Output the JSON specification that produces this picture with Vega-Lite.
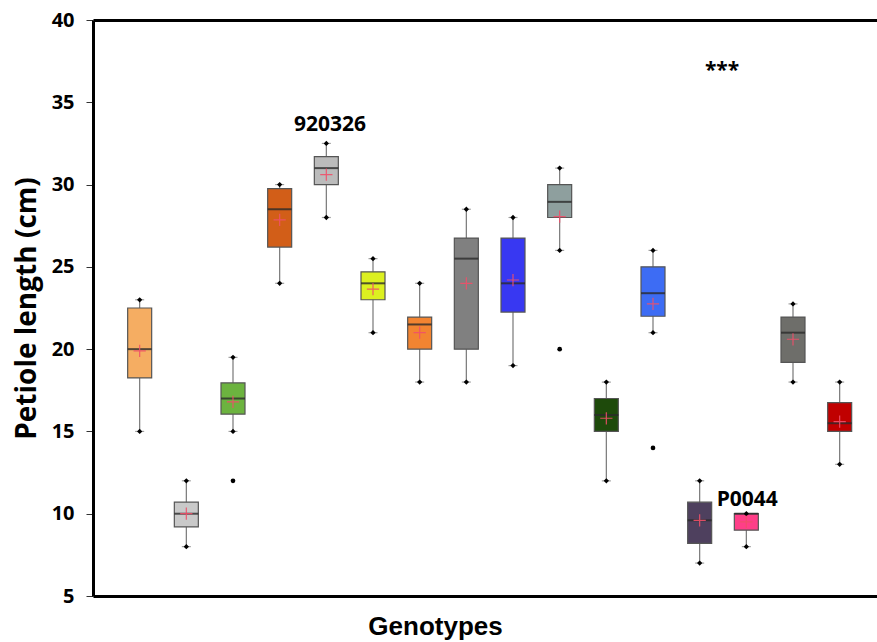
{
  "$schema": "https://vega.github.io/schema/vega-lite/v6.json",
  "autosize": "none",
  "width": 784,
  "height": 576,
  "padding": {"left": 93, "top": 20, "right": 0, "bottom": 46},
  "background": "white",
  "config": {
    "view": {"stroke": null},
    "font": "Open Sans"
  },
  "datasets": {
    "stats": [
      {"g": "G1", "idx": 1, "lo": 15, "q1": 18.25, "med": 20, "q3": 22.5, "hi": 23, "mean": 19.9},
      {"g": "G2", "idx": 2, "lo": 8, "q1": 9.2, "med": 10, "q3": 10.7, "hi": 12, "mean": 10},
      {"g": "G3", "idx": 3, "lo": 15, "q1": 16.05, "med": 17, "q3": 17.95, "hi": 19.5, "mean": 16.8},
      {"g": "G4", "idx": 4, "lo": 24, "q1": 26.2, "med": 28.5, "q3": 29.75, "hi": 30, "mean": 27.85},
      {"g": "G5", "idx": 5, "lo": 28, "q1": 30, "med": 31, "q3": 31.7, "hi": 32.5, "mean": 30.6},
      {"g": "G6", "idx": 6, "lo": 21, "q1": 23, "med": 24, "q3": 24.7, "hi": 25.5, "mean": 23.65},
      {"g": "G7", "idx": 7, "lo": 18, "q1": 20, "med": 21.5, "q3": 21.95, "hi": 24, "mean": 21},
      {"g": "G8", "idx": 8, "lo": 18, "q1": 20, "med": 25.5, "q3": 26.75, "hi": 28.5, "mean": 24},
      {"g": "G9", "idx": 9, "lo": 19, "q1": 22.25, "med": 24, "q3": 26.75, "hi": 28, "mean": 24.2},
      {"g": "G10", "idx": 10, "lo": 26, "q1": 28, "med": 28.95, "q3": 30, "hi": 31, "mean": 28.05},
      {"g": "G11", "idx": 11, "lo": 12, "q1": 15, "med": 16, "q3": 17, "hi": 18, "mean": 15.8},
      {"g": "G12", "idx": 12, "lo": 21, "q1": 22, "med": 23.4, "q3": 25, "hi": 26, "mean": 22.75},
      {"g": "G13", "idx": 13, "lo": 7, "q1": 8.2, "med": 9.6, "q3": 10.7, "hi": 12, "mean": 9.6},
      {"g": "G14", "idx": 14, "lo": 8, "q1": 9, "med": 10, "q3": 10, "hi": 10, "mean": 9.5},
      {"g": "G15", "idx": 15, "lo": 18, "q1": 19.2, "med": 21, "q3": 21.95, "hi": 22.75, "mean": 20.6},
      {"g": "G16", "idx": 16, "lo": 13, "q1": 15, "med": 15.5, "q3": 16.75, "hi": 18, "mean": 15.6}
    ],
    "outliers": [
      {"g": "G3", "idx": 3, "v": 12},
      {"g": "G10", "idx": 10, "v": 20},
      {"g": "G12", "idx": 12, "v": 14}
    ],
    "notes": [
      {"label": "920326", "idx": 5.08, "v": 33.6},
      {"label": "P0044", "idx": 14.02, "v": 10.85},
      {"label": "***", "idx": 13.48, "v": 36.9}
    ]
  },
  "resolve": {"axis": {"x": "independent"}},
  "layer": [
    {
      "data": {"name": "stats"},
      "mark": {"type": "rule", "color": "#777777", "strokeWidth": 1.2},
      "encoding": {
        "x": {"field": "idx", "type": "quantitative",
              "scale": {"domain": [0, 16.8], "nice": false, "zero": false, "padding": 0},
              "axis": {"labels": false, "ticks": false, "grid": false, "domain": true,
                       "domainColor": "black", "domainWidth": 3,
                       "title": "Genotypes", "titleFont": "Liberation Sans", "titleFontSize": 26, "titleFontWeight": "bold",
                       "titleColor": "black", "titleX": 342, "titleY": 30, "titleAnchor": "middle", "titleBaseline": "middle"}},
        "y": {"field": "lo", "type": "quantitative",
              "scale": {"domain": [5, 40], "nice": false, "zero": false},
              "axis": {"values": [5, 10, 15, 20, 25, 30, 35, 40], "grid": false,
                       "domain": true, "domainColor": "black", "domainWidth": 3,
                       "tickColor": "#333333", "tickSize": 7, "tickWidth": 1,
                       "labelFontSize": 20, "labelFontWeight": "bold", "labelColor": "black",
                       "labelPadding": 12,
                       "title": "Petiole length (cm)", "titleFontSize": 28, "titleFontWeight": "bold",
                       "titleColor": "black", "titlePadding": 10}},
        "y2": {"field": "hi"}
      }
    },
    {
      "data": {"name": "stats"},
      "mark": {"type": "tick", "orient": "horizontal", "size": 9, "thickness": 1.2, "color": "#777777"},
      "encoding": {
        "x": {"field": "idx", "type": "quantitative", "axis": null},
        "y": {"field": "lo", "type": "quantitative"}
      }
    },
    {
      "data": {"name": "stats"},
      "mark": {"type": "tick", "orient": "horizontal", "size": 9, "thickness": 1.2, "color": "#777777"},
      "encoding": {
        "x": {"field": "idx", "type": "quantitative", "axis": null},
        "y": {"field": "hi", "type": "quantitative"}
      }
    },
    {
      "data": {"name": "stats"},
      "mark": {"type": "bar", "width": 24, "stroke": "#555555", "strokeWidth": 1.2, "opacity": 1},
      "encoding": {
        "x": {"field": "idx", "type": "quantitative", "axis": null},
        "y": {"field": "q1", "type": "quantitative"},
        "y2": {"field": "q3"},
        "fill": {"field": "g", "type": "nominal", "legend": null,
                 "scale": {"domain": ["G1","G2","G3","G4","G5","G6","G7","G8","G9","G10","G11","G12","G13","G14","G15","G16"],
                           "range": ["#F5AD62","#C9C9C9","#6CB33F","#D25E18","#BBBBBB","#DCF020","#F28431","#808080","#3838F2","#8E9F9E","#1E4A0B","#3D6CF4","#4E405E","#FF3E88","#6E6E6A","#C00000"]}}
      }
    },
    {
      "data": {"name": "stats"},
      "mark": {"type": "tick", "orient": "horizontal", "size": 24, "thickness": 2, "color": "#2a2a2a", "opacity": 0.8},
      "encoding": {
        "x": {"field": "idx", "type": "quantitative", "axis": null},
        "y": {"field": "med", "type": "quantitative"}
      }
    },
    {
      "data": {"name": "stats"},
      "mark": {"type": "point", "shape": "diamond", "filled": true, "color": "black", "size": 28, "opacity": 1},
      "encoding": {
        "x": {"field": "idx", "type": "quantitative", "axis": null},
        "y": {"field": "lo", "type": "quantitative"}
      }
    },
    {
      "data": {"name": "stats"},
      "mark": {"type": "point", "shape": "diamond", "filled": true, "color": "black", "size": 28, "opacity": 1},
      "encoding": {
        "x": {"field": "idx", "type": "quantitative", "axis": null},
        "y": {"field": "hi", "type": "quantitative"}
      }
    },
    {
      "data": {"name": "stats"},
      "mark": {"type": "point", "shape": "M-1,0L1,0M0,-1L0,1", "filled": false, "stroke": "#F0506A", "strokeWidth": 1.2, "size": 150, "opacity": 0.9},
      "encoding": {
        "x": {"field": "idx", "type": "quantitative", "axis": null},
        "y": {"field": "mean", "type": "quantitative"}
      }
    },
    {
      "data": {"name": "outliers"},
      "mark": {"type": "point", "shape": "circle", "filled": true, "color": "black", "size": 22, "opacity": 1},
      "encoding": {
        "x": {"field": "idx", "type": "quantitative", "axis": null},
        "y": {"field": "v", "type": "quantitative"}
      }
    },
    {
      "data": {"name": "notes"},
      "mark": {"type": "text", "fontSize": 21, "fontWeight": "bold", "color": "black", "align": "center", "baseline": "middle", "font": "Open Sans"},
      "encoding": {
        "x": {"field": "idx", "type": "quantitative",
              "axis": {"orient": "top", "labels": false, "ticks": false, "grid": false, "title": null,
                       "domain": true, "domainColor": "black", "domainWidth": 3}},
        "y": {"field": "v", "type": "quantitative"},
        "text": {"field": "label"}
      }
    }
  ]
}
